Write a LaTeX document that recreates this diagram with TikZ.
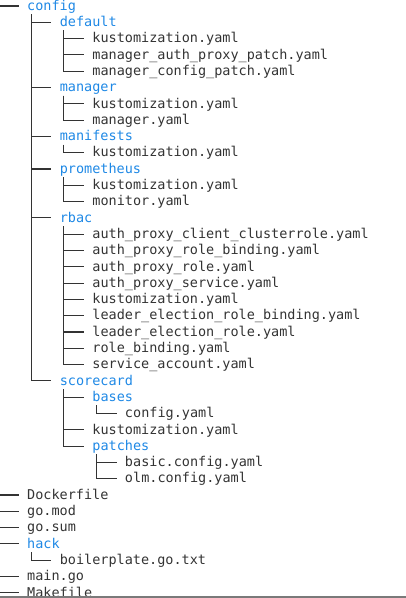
\documentclass[tikz,border=0pt]{standalone}
\usepackage{fontspec}
\setmainfont{DejaVu Sans Mono}
\usetikzlibrary{calc}
\definecolor{filegray}{HTML}{333333}
\definecolor{dirblue}{HTML}{1E88E5}
\definecolor{rulegray}{HTML}{7A7A7A}
\tikzset{
  file/.style={font=\fontsize{13.5}{16}\selectfont, text=filegray, inner sep=0pt,
    text height=11.6pt, text depth=3pt, anchor=west},
  dir/.style={file, text=dirblue},
  branch/.style={draw=filegray, line width=1.05pt}
}
\newcommand\treebranch[2]{\draw[branch] ($(#1.180)+(4.07pt,-8.15pt)$) |- ($(#2.180)+(-8.15pt,0pt)$);}
\begin{document}
\begin{tikzpicture}[x=1pt,y=-16.3pt]
  \useasboundingbox (0,-0.368) rectangle (406,36.32);
  \clip (0,-0.368) rectangle (406,36.32);
  \coordinate (root) at (-5.6,-1);
  \node[dir] (config) at (27,0) {config};
  \node[dir] (default) at (59.6,1) {default};
  \node[file] (defkust) at (92.2,2) {kustomization.yaml};
  \node[file] (defauth) at (92.2,3) {manager\_auth\_proxy\_patch.yaml};
  \node[file] (defconfig) at (92.2,4) {manager\_config\_patch.yaml};
  \node[dir] (manager) at (59.6,5) {manager};
  \node[file] (mgrkust) at (92.2,6) {kustomization.yaml};
  \node[file] (mgryaml) at (92.2,7) {manager.yaml};
  \node[dir] (manifests) at (59.6,8) {manifests};
  \node[file] (mfkust) at (92.2,9) {kustomization.yaml};
  \node[dir] (prometheus) at (59.6,10) {prometheus};
  \node[file] (promkust) at (92.2,11) {kustomization.yaml};
  \node[file] (monitor) at (92.2,12) {monitor.yaml};
  \node[dir] (rbac) at (59.6,13) {rbac};
  \node[file] (clusterrole) at (92.2,14) {auth\_proxy\_client\_clusterrole.yaml};
  \node[file] (proxybinding) at (92.2,15) {auth\_proxy\_role\_binding.yaml};
  \node[file] (proxyrole) at (92.2,16) {auth\_proxy\_role.yaml};
  \node[file] (proxyservice) at (92.2,17) {auth\_proxy\_service.yaml};
  \node[file] (rbackust) at (92.2,18) {kustomization.yaml};
  \node[file] (leaderbinding) at (92.2,19) {leader\_election\_role\_binding.yaml};
  \node[file] (leaderrole) at (92.2,20) {leader\_election\_role.yaml};
  \node[file] (rolebinding) at (92.2,21) {role\_binding.yaml};
  \node[file] (serviceaccount) at (92.2,22) {service\_account.yaml};
  \node[dir] (scorecard) at (59.6,23) {scorecard};
  \node[dir] (bases) at (92.2,24) {bases};
  \node[file] (basesconfig) at (124.8,25) {config.yaml};
  \node[file] (sckust) at (92.2,26) {kustomization.yaml};
  \node[dir] (patches) at (92.2,27) {patches};
  \node[file] (basic) at (124.8,28) {basic.config.yaml};
  \node[file] (olm) at (124.8,29) {olm.config.yaml};
  \node[file] (dockerfile) at (27,30) {Dockerfile};
  \node[file] (gomod) at (27,31) {go.mod};
  \node[file] (gosum) at (27,32) {go.sum};
  \node[dir] (hack) at (27,33) {hack};
  \node[file] (boilerplate) at (59.6,34) {boilerplate.go.txt};
  \node[file] (maingo) at (27,35) {main.go};
  \node[file] (makefile) at (27,36) {Makefile};
  \foreach \kid in {config,dockerfile,gomod,gosum,hack,maingo,makefile}
    {\treebranch{root}{\kid}}
  \foreach \kid in {default,manager,manifests,prometheus,rbac,scorecard}
    {\treebranch{config}{\kid}}
  \foreach \kid in {defkust,defauth,defconfig}
    {\treebranch{default}{\kid}}
  \foreach \kid in {mgrkust,mgryaml}
    {\treebranch{manager}{\kid}}
  \treebranch{manifests}{mfkust}
  \foreach \kid in {promkust,monitor}
    {\treebranch{prometheus}{\kid}}
  \foreach \kid in {clusterrole,proxybinding,proxyrole,proxyservice,rbackust,leaderbinding,leaderrole,rolebinding,serviceaccount}
    {\treebranch{rbac}{\kid}}
  \foreach \kid in {bases,sckust,patches}
    {\treebranch{scorecard}{\kid}}
  \treebranch{bases}{basesconfig}
  \foreach \kid in {basic,olm}
    {\treebranch{patches}{\kid}}
  \treebranch{hack}{boilerplate}
  \draw[rulegray, line width=1.4pt] (0,36.26) -- (406,36.26);
\end{tikzpicture}
\end{document}
